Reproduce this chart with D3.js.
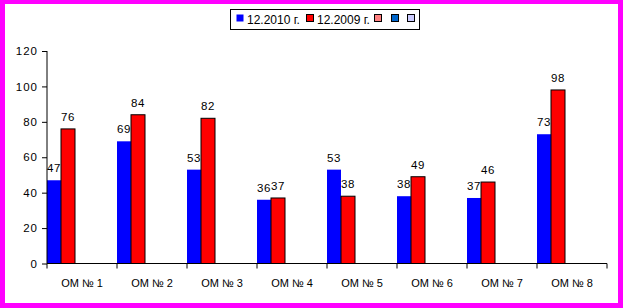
<!DOCTYPE html>
<html>
<head>
<meta charset="utf-8">
<script src="https://cdn.jsdelivr.net/npm/d3@7/dist/d3.min.js"></script>
<style>
  body { margin: 0; background: #fff; }
  svg { display: block; font-family: "Liberation Sans", Arial, sans-serif; }
</style>
</head>
<body>
<svg id="chart" width="623" height="308"></svg>
<script>
// data
var categories = ["ОМ № 1", "ОМ № 2", "ОМ № 3", "ОМ № 4", "ОМ № 5", "ОМ № 6", "ОМ № 7", "ОМ № 8"];
var series2010 = [47, 69, 53, 36, 53, 38, 37, 73];
var series2009 = [76, 84, 82, 37, 38, 49, 46, 98];
var seriesNames = ["12.2010 г.", "12.2009 г.", "", "", ""];
var yTicks = [0, 20, 40, 60, 80, 100, 120];

var svg = d3.select("#chart");
var margin = {left: 47, right: 16, top: 51, bottom: 45};
var W = 623, H = 308;

// magenta frame
svg.append("rect").attr("width", W).attr("height", H).attr("fill", "#ff00ff");
svg.append("rect").attr("x", 5).attr("y", 4).attr("width", 613).attr("height", 299).attr("fill", "#fff");

var x = d3.scaleBand().domain(categories).range([margin.left, 607]).padding(0);
// five series slots per category (three are empty)
var xs = d3.scaleBand().domain(d3.range(5)).range([0, x.bandwidth()]).padding(0);
var y = d3.scaleLinear().domain([0, 120]).range([263.5, 51]);

var series = [
  {name: seriesNames[0], values: series2010, color: "#0000ff", stroke: "none"},
  {name: seriesNames[1], values: series2009, color: "#ff0000", stroke: "#000"}
];

// bars
series.forEach(function(s, si){
  var g = svg.append("g");
  g.selectAll("rect").data(s.values).enter().append("rect")
    .attr("x", (d, i) => x(categories[i]) + xs(si))
    .attr("y", d => y(d))
    .attr("width", xs.bandwidth())
    .attr("height", d => y(0) - y(d))
    .attr("fill", s.color)
    .attr("stroke", s.stroke)
    .attr("stroke-width", 1);
  g.selectAll("text").data(s.values).enter().append("text")
    .attr("x", (d, i) => x(categories[i]) + xs(si) + xs.bandwidth() / 2)
    .attr("y", d => y(d) - 8)
    .attr("text-anchor", "middle")
    .attr("font-size", 11.5)
    .attr("letter-spacing", 0.5)
    .attr("fill", "#000")
    .text(d => d);
});

// y axis
var yAxis = d3.axisLeft(y).tickValues(yTicks).tickSize(5).tickPadding(4);
var gy = svg.append("g").attr("transform", "translate(" + margin.left + ",0)").call(yAxis);
gy.select(".domain").attr("stroke", "#000").attr("d", "M0," + y(120) + "V" + y(0));
gy.selectAll("text").attr("font-size", 11.5).attr("letter-spacing", 1)
  .attr("font-family", "Liberation Sans, Arial, sans-serif").attr("fill", "#000");

// x axis
var xTickPos = d3.range(categories.length + 1).map(i => margin.left + i * x.bandwidth());
svg.append("line").attr("x1", margin.left).attr("x2", 607).attr("y1", y(0)).attr("y2", y(0)).attr("stroke", "#000");
svg.selectAll(".xtick").data(xTickPos).enter().append("line")
  .attr("x1", d => d).attr("x2", d => d)
  .attr("y1", y(0)).attr("y2", y(0) + 5)
  .attr("stroke", "#000");
svg.selectAll(".xlabel").data(categories).enter().append("text")
  .attr("x", d => x(d) + x.bandwidth() / 2)
  .attr("y", 287)
  .attr("text-anchor", "middle")
  .attr("font-size", 11)
  .text(d => d);

// legend
var lg = svg.append("g");
lg.append("rect").attr("x", 230.5).attr("y", 9.5).attr("width", 189).attr("height", 20)
  .attr("fill", "#fff").attr("stroke", "#000");
var legendItems = [
  {x: 236, color: "#0000ff", stroke: "none", label: seriesNames[0]},
  {x: 306, color: "#ff0000", stroke: "#000", label: seriesNames[1]},
  {x: 374, color: "#ff8080", stroke: "#000", label: ""},
  {x: 391, color: "#0066cc", stroke: "#000", label: ""},
  {x: 407, color: "#ccccff", stroke: "#000", label: ""}
];
legendItems.forEach(function(it){
  lg.append("rect").attr("x", it.x + 0.5).attr("y", 14.5).attr("width", 7).attr("height", 7)
    .attr("fill", it.color).attr("stroke", it.stroke);
  if (it.label) {
    lg.append("text").attr("x", it.x + 11).attr("y", 23.5)
      .attr("font-size", 12).text(it.label);
  }
});
</script>
</body>
</html>
